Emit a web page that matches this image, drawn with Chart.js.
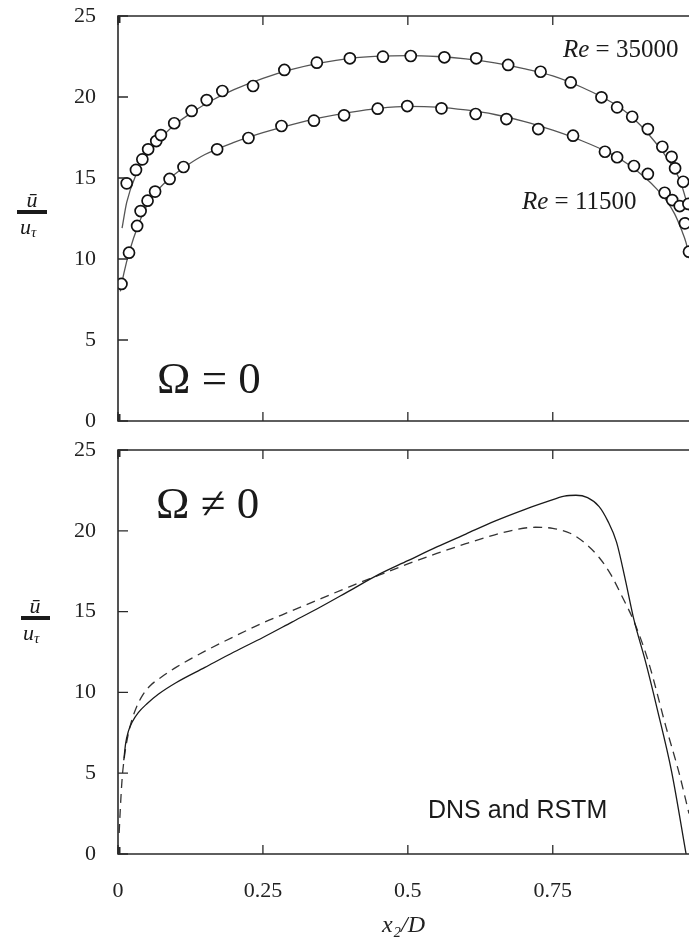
<!DOCTYPE html>
<html>
<head>
<meta charset="utf-8">
<script src="https://cdn.jsdelivr.net/npm/chart.js@4.4.0/dist/chart.umd.min.js"></script>
<style>
  html, body { margin: 0; padding: 0; background: #fff; overflow: hidden; width: 689px; height: 942px; }
  canvas { position: absolute; left: 0; }
  #topChart { top: 0; }
  #bottomChart { top: 430px; }
</style>
</head>
<body>
<canvas id="topChart" width="689" height="440"></canvas>
<canvas id="bottomChart" width="689" height="512"></canvas>
<script>
// tick values
const xTicks = [0, 0.25, 0.5, 0.75];
const yTicks = [0, 5, 10, 15, 20, 25];

// top panel, Omega = 0 : measured points
const re35000X = [0.015, 0.031, 0.042, 0.052, 0.066, 0.074, 0.097, 0.127, 0.153, 0.18, 0.233, 0.287, 0.343, 0.4, 0.457, 0.505, 0.563, 0.618, 0.673, 0.729, 0.781, 0.834, 0.861, 0.887, 0.914, 0.939, 0.955, 0.961, 0.975, 0.984];
const re35000Y = [14.67, 15.5, 16.15, 16.77, 17.28, 17.65, 18.38, 19.14, 19.81, 20.37, 20.68, 21.67, 22.12, 22.39, 22.49, 22.53, 22.45, 22.39, 21.98, 21.56, 20.9, 19.98, 19.36, 18.78, 18.02, 16.93, 16.31, 15.6, 14.77, 13.4];
const re11500X = [0.006, 0.019, 0.033, 0.039, 0.051, 0.064, 0.089, 0.113, 0.171, 0.225, 0.282, 0.338, 0.39, 0.448, 0.499, 0.558, 0.617, 0.67, 0.725, 0.785, 0.84, 0.861, 0.89, 0.914, 0.943, 0.956, 0.969, 0.978, 0.985];
const re11500Y = [8.46, 10.39, 12.04, 12.96, 13.6, 14.16, 14.94, 15.68, 16.77, 17.47, 18.21, 18.54, 18.87, 19.28, 19.44, 19.3, 18.95, 18.64, 18.02, 17.61, 16.62, 16.28, 15.74, 15.25, 14.09, 13.64, 13.27, 12.2, 10.45];

// top panel : fitted profiles
const fit35000X = [0.007, 0.015, 0.031, 0.045, 0.06, 0.08, 0.1, 0.13, 0.16, 0.2, 0.25, 0.3, 0.35, 0.4, 0.45, 0.5, 0.55, 0.6, 0.65, 0.7, 0.75, 0.8, 0.84, 0.87, 0.9, 0.92, 0.94, 0.955, 0.97, 0.985];
const fit35000Y = [11.9, 13.5, 15.2, 16.1, 16.9, 17.7, 18.35, 19.1, 19.75, 20.45, 21.15, 21.7, 22.1, 22.38, 22.52, 22.56, 22.5, 22.35, 22.1, 21.75, 21.3, 20.6, 19.9, 19.25, 18.3, 17.5, 16.6, 15.8, 14.8, 13.0];
const fit11500X = [0.004, 0.01, 0.02, 0.035, 0.05, 0.07, 0.09, 0.12, 0.15, 0.2, 0.25, 0.3, 0.35, 0.4, 0.45, 0.5, 0.55, 0.6, 0.65, 0.7, 0.75, 0.8, 0.85, 0.88, 0.91, 0.93, 0.946, 0.96, 0.972, 0.98, 0.986];
const fit11500Y = [8.0, 9.1, 10.5, 12.1, 13.3, 14.3, 15.0, 15.8, 16.45, 17.2, 17.8, 18.3, 18.72, 19.05, 19.3, 19.42, 19.38, 19.2, 18.92, 18.5, 17.95, 17.3, 16.5, 15.85, 15.0, 14.3, 13.6, 12.8, 11.8, 11.0, 10.0];

// bottom panel, Omega != 0 : solid (DNS) and dashed (RSTM)
const dnsX = [0.01, 0.013, 0.018, 0.025, 0.035, 0.05, 0.07, 0.1, 0.15, 0.2, 0.25, 0.3, 0.35, 0.4, 0.45, 0.5, 0.55, 0.6, 0.65, 0.7, 0.74, 0.77, 0.79, 0.81, 0.83, 0.845, 0.86, 0.875, 0.89, 0.91, 0.93, 0.955, 0.98];
const dnsY = [5.8, 6.8, 7.6, 8.2, 8.75, 9.3, 9.9, 10.6, 11.55, 12.5, 13.4, 14.35, 15.3, 16.3, 17.3, 18.15, 19.0, 19.8, 20.6, 21.3, 21.8, 22.15, 22.2, 22.05, 21.5, 20.6, 19.3, 17.0, 14.5, 11.9, 9.0, 5.1, 0];
const rstmX = [0.002, 0.004, 0.007, 0.011, 0.017, 0.024, 0.032, 0.042, 0.055, 0.075, 0.1, 0.15, 0.2, 0.25, 0.3, 0.35, 0.4, 0.45, 0.5, 0.55, 0.6, 0.65, 0.69, 0.72, 0.75, 0.78, 0.805, 0.83, 0.85, 0.87, 0.89, 0.915, 0.945, 0.968, 0.985];
const rstmY = [1.3, 2.8, 4.6, 6.0, 7.3, 8.3, 9.1, 9.8, 10.4, 10.95, 11.55, 12.55, 13.45, 14.3, 15.05, 15.8, 16.55, 17.25, 17.95, 18.6, 19.2, 19.75, 20.1, 20.22, 20.15, 19.85, 19.25, 18.35, 17.3, 15.9, 14.4, 11.9, 7.9, 5.0, 2.5];

const SERIF = '"Liberation Serif", "DejaVu Serif", serif';
const SANS = '"Liberation Sans", Arial, sans-serif';

function pts(xs, ys) {
  return xs.map((x, i) => ({ x: x, y: ys[i] }));
}

// frame with inward ticks, plus free text
const framePlugin = {
  id: 'frame',
  afterDatasetsDraw(chart, args, opts) {
    const { ctx, chartArea: a, scales: { x, y } } = chart;
    ctx.save();
    ctx.strokeStyle = '#2a2a2a';
    ctx.lineWidth = 1.6;
    ctx.beginPath();
    ctx.moveTo(a.right, a.top);
    ctx.lineTo(a.left, a.top);
    ctx.lineTo(a.left, a.bottom);
    ctx.lineTo(a.right, a.bottom);
    ctx.stroke();

    ctx.lineWidth = 1.3;
    ctx.beginPath();
    yTicks.forEach(v => {
      const py = y.getPixelForValue(v);
      ctx.moveTo(a.left, py);
      ctx.lineTo(a.left + 10, py);
    });
    xTicks.forEach(v => {
      const px = x.getPixelForValue(v);
      ctx.moveTo(px, a.bottom);
      ctx.lineTo(px, a.bottom - 9);
      ctx.moveTo(px, a.top);
      ctx.lineTo(px, a.top + 9);
    });
    ctx.stroke();
    // thick mark at the origin corners
    ctx.lineWidth = 3;
    ctx.beginPath();
    ctx.moveTo(a.left + 1, a.bottom);
    ctx.lineTo(a.left + 1, a.bottom - 7);
    ctx.moveTo(a.left + 1, a.top);
    ctx.lineTo(a.left + 1, a.top + 7);
    ctx.stroke();

    // text labels
    ctx.fillStyle = '#1a1a1a';
    ctx.textBaseline = 'alphabetic';
    ctx.textAlign = 'left';
    (opts.labels || []).forEach(lab => {
      let cx = lab.x;
      lab.parts.forEach(p => {
        ctx.font = p.font;
        ctx.fillText(p.t, cx, lab.y);
        cx += ctx.measureText(p.t).width;
      });
    });

    // y axis fraction label  u-bar / u_tau
    const f = opts.frac;
    if (f) {
      ctx.textAlign = 'center';
      ctx.font = 'italic 22px ' + SERIF;
      ctx.fillText('\u016B', f.cx, f.bar - 5);
      ctx.fillRect(f.x0, f.bar - 2, f.x1 - f.x0, 4);
      ctx.textAlign = 'left';
      ctx.font = 'italic 22px ' + SERIF;
      ctx.fillText('u', f.cx - 12, f.bar + 22);
      ctx.font = 'italic 15px ' + SERIF;
      ctx.fillText('\u03C4', f.cx - 1, f.bar + 25);
    }
    ctx.restore();
  }
};

function yScale() {
  return {
    type: 'linear',
    min: 0,
    max: 25,
    afterBuildTicks: s => { s.ticks = yTicks.map(v => ({ value: v })); },
    afterFit: s => { s.width = 118; s.paddingTop = 0; s.paddingBottom = 0; },
    grid: { display: false, drawTicks: false },
    border: { display: false },
    ticks: { padding: 22, color: '#222', font: { family: SERIF, size: 22 } }
  };
}

const omegaFont = '45px ' + SERIF;
const reItalic = 'italic 25px ' + SERIF;
const reFont = '25px ' + SERIF;

new Chart(document.getElementById('topChart'), {
  type: 'scatter',
  data: {
    datasets: [
      { label: 'Re = 35000 (exp)', data: pts(re35000X, re35000Y), showLine: false,
        pointStyle: 'circle', pointRadius: 5.5, pointBorderWidth: 1.7,
        pointBorderColor: '#111', pointBackgroundColor: '#fff' },
      { label: 'Re = 11500 (exp)', data: pts(re11500X, re11500Y), showLine: false,
        pointStyle: 'circle', pointRadius: 5.5, pointBorderWidth: 1.7,
        pointBorderColor: '#111', pointBackgroundColor: '#fff' },
      { label: 'Re = 35000', data: pts(fit35000X, fit35000Y), showLine: true,
        borderColor: '#555', borderWidth: 1.3, pointRadius: 0, cubicInterpolationMode: 'monotone' },
      { label: 'Re = 11500', data: pts(fit11500X, fit11500Y), showLine: true,
        borderColor: '#555', borderWidth: 1.3, pointRadius: 0, cubicInterpolationMode: 'monotone' }
    ]
  },
  options: {
    responsive: false,
    animation: false,
    layout: { autoPadding: false, padding: { top: 16, bottom: 19, left: 0, right: 0 } },
    scales: {
      x: { type: 'linear', min: 0, max: 0.985, display: false },
      y: yScale()
    },
    plugins: {
      legend: { display: false },
      tooltip: { enabled: false },
      frame: {
        labels: [
          { x: 157, y: 393, parts: [{ t: '\u03A9 = 0', font: omegaFont }] },
          { x: 563, y: 57, parts: [{ t: 'Re', font: reItalic }, { t: ' = 35000', font: reFont }] },
          { x: 522, y: 209, parts: [{ t: 'Re', font: reItalic }, { t: ' = 11500', font: reFont }] }
        ],
        frac: { cx: 32, bar: 212, x0: 17, x1: 47 }
      }
    }
  },
  plugins: [framePlugin]
});

new Chart(document.getElementById('bottomChart'), {
  type: 'scatter',
  data: {
    datasets: [
      { label: 'DNS', data: pts(dnsX, dnsY), showLine: true,
        borderColor: '#1a1a1a', borderWidth: 1.3, pointRadius: 0, cubicInterpolationMode: 'monotone' },
      { label: 'RSTM', data: pts(rstmX, rstmY), showLine: true, borderDash: [9, 6],
        borderColor: '#333', borderWidth: 1.3, pointRadius: 0, cubicInterpolationMode: 'monotone' }
    ]
  },
  options: {
    responsive: false,
    animation: false,
    layout: { autoPadding: false, padding: { top: 20, bottom: 0, left: 0, right: 0 } },
    scales: {
      x: {
        type: 'linear', min: 0, max: 0.985,
        afterBuildTicks: s => { s.ticks = xTicks.map(v => ({ value: v })); },
        afterFit: s => { s.height = 88; s.paddingLeft = 0; s.paddingRight = 0; },
        grid: { display: false, drawTicks: false },
        border: { display: false },
        ticks: { padding: 24, color: '#222', maxRotation: 0, font: { family: SERIF, size: 22 },
          callback: v => String(v) },
        title: { display: true, text: 'x\u2082/D', color: '#222',
          font: { family: SERIF, size: 24, style: 'italic' }, padding: { top: 0, bottom: 2 } }
      },
      y: yScale()
    },
    plugins: {
      legend: { display: false },
      tooltip: { enabled: false },
      frame: {
        labels: [
          { x: 156, y: 88, parts: [{ t: '\u03A9 \u2260 0', font: omegaFont }] },
          { x: 428, y: 388, parts: [{ t: 'DNS and RSTM', font: '25px ' + SANS }] }
        ],
        frac: { cx: 35, bar: 188, x0: 21, x1: 50 }
      }
    }
  },
  plugins: [framePlugin]
});
</script>
</body>
</html>
